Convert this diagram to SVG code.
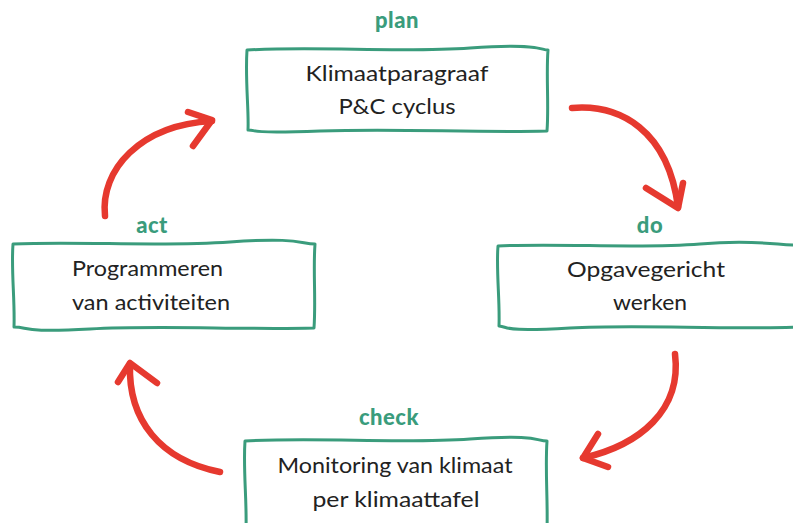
<svg xmlns="http://www.w3.org/2000/svg" width="793" height="523" viewBox="0 0 793 523">
<style>
.box{fill:#fff;stroke:#3a9c7c;stroke-width:3;stroke-linejoin:round}
.lbl{font-family:Lato,"Open Sans",sans-serif;font-weight:900;font-size:22px;fill:#3a9c7c;text-anchor:middle;letter-spacing:0.5px}
.txt{font-family:Lato,"Open Sans",sans-serif;font-size:22px;fill:#222;text-anchor:middle}
.arr{fill:none;stroke:#e6392f;stroke-width:6.5;stroke-linecap:round;stroke-linejoin:round}
</style>
<rect width="793" height="523" fill="#fff"/>
<g id="plan">
<text class="lbl" x="397" y="28">plan</text>
<path class="box" d="M247,50 C320,46 400,53 470,48 S540,50 548,50 C546,75 549,105 547,131 C470,133 400,128 320,131 S260,130 248,130 C249,110 245,80 247,50 Z"/>
<text class="txt" x="397" y="81" textLength="183" lengthAdjust="spacingAndGlyphs">Klimaatparagraaf</text>
<text class="txt" x="397" y="114" textLength="117" lengthAdjust="spacingAndGlyphs">P&amp;C cyclus</text>
</g>
<g id="do">
<text class="lbl" x="650" y="233">do</text>
<path class="box" d="M498,246 C560,243 640,249 700,244 S780,246 800,245 L800,327 C720,330 640,324 570,328 S510,327 499,326 C500,300 496,270 498,246 Z"/>
<text class="txt" x="646" y="277" textLength="158" lengthAdjust="spacingAndGlyphs">Opgavegericht</text>
<text class="txt" x="650" y="310" textLength="74" lengthAdjust="spacingAndGlyphs">werken</text>
</g>
<g id="act">
<text class="lbl" x="152" y="233">act</text>
<path class="box" d="M13,244 C80,241 160,247 230,242 S300,244 315,244 C313,270 316,300 314,328 C240,330 160,325 90,329 S30,327 14,327 C15,300 11,270 13,244 Z"/>
<text class="txt" x="72" y="276" style="text-anchor:start" textLength="151" lengthAdjust="spacingAndGlyphs">Programmeren</text>
<text class="txt" x="72" y="310" style="text-anchor:start" textLength="158" lengthAdjust="spacingAndGlyphs">van activiteiten</text>
</g>
<g id="check">
<text class="lbl" x="389" y="425">check</text>
<path class="box" d="M245,441 C320,437 400,444 470,439 S535,441 547,441 C545,470 548,500 547,530 L246,530 C247,500 243,470 245,441 Z"/>
<text class="txt" x="395" y="473" textLength="235" lengthAdjust="spacingAndGlyphs">Monitoring van klimaat</text>
<text class="txt" x="396" y="507" textLength="167" lengthAdjust="spacingAndGlyphs">per klimaattafel</text>
</g>
<g id="connectors">
<path class="arr" d="M572,108 C620,104 668,130 678,207"/>
<polyline class="arr" points="646,188 678,208 683,183"/>
<path class="arr" d="M675,354 C682,410 640,445 583,458"/>
<polyline class="arr" points="598,434 583,458 608,467"/>
<path class="arr" d="M220,472 C160,460 128,420 130,364"/>
<polyline class="arr" points="118,382 130,363 157,383"/>
<path class="arr" d="M105,216 C100,170 140,125 212,121"/>
<polyline class="arr" points="188,112 212,120 193,146"/>
</g>
</svg>
